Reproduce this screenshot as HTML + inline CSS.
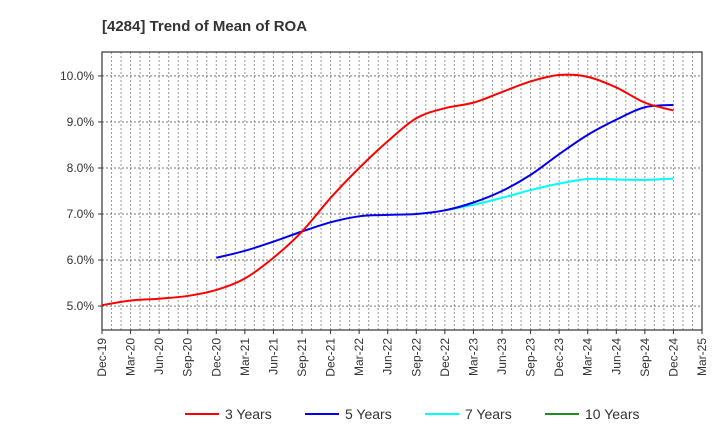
<!DOCTYPE html>
<html><head><meta charset="utf-8"><style>
body{margin:0;background:#fff;font-family:"Liberation Sans",sans-serif;}
svg text{font-family:"Liberation Sans",sans-serif;}
</style></head><body>
<svg id="chart" width="720" height="440" xmlns="http://www.w3.org/2000/svg">
<text x="102" y="31" font-size="15" font-weight="bold" fill="#333">[4284]  Trend of Mean of ROA</text>
<g id="grid"></g>
<g id="axes"></g>
<g id="series"></g>
<g id="legend"></g>
</svg>
<script>
const xLabels=["Dec-19","Mar-20","Jun-20","Sep-20","Dec-20","Mar-21","Jun-21","Sep-21","Dec-21","Mar-22","Jun-22","Sep-22","Dec-22","Mar-23","Jun-23","Sep-23","Dec-23","Mar-24","Jun-24","Sep-24","Dec-24","Mar-25"];
const yTicks=[5,6,7,8,9,10];
const y3=[5.02,5.12,5.16,5.22,5.35,5.6,6.05,6.62,7.35,8.0,8.58,9.08,9.3,9.42,9.65,9.88,10.02,9.98,9.75,9.42,9.25];
const y5=[6.05,6.2,6.4,6.62,6.82,6.95,6.98,7.0,7.08,7.25,7.5,7.85,8.3,8.72,9.05,9.32,9.37];
const y7=[7.08,7.2,7.35,7.52,7.66,7.76,7.75,7.74,7.77];
const y10=[];
const start3=0,start5=4,start7=12,start10=0;
const L=102,R=702,T=52,B=330,yMin=4.48,yMax=10.52;
const NS="http://www.w3.org/2000/svg";
const xs=i=>L+i*(R-L)/(xLabels.length-1);
const ys=v=>B-(v-yMin)/(yMax-yMin)*(B-T);
function mk(tag,attrs,parent){const e=document.createElementNS(NS,tag);for(const k in attrs)e.setAttribute(k,attrs[k]);parent.appendChild(e);return e;}
const grid=document.getElementById('grid'),axes=document.getElementById('axes'),ser=document.getElementById('series'),leg=document.getElementById('legend');
for(let m=1;m<(xLabels.length-1)*3;m++){const x=L+m*(R-L)/((xLabels.length-1)*3);
 const g=mk('line',{x1:x,x2:x,y1:T,y2:B,stroke:'#999','stroke-width':1,'stroke-dasharray':'2,2'},grid);
 
 }
yTicks.forEach(v=>{const y=ys(v);
 const g=mk('line',{x1:L,x2:R,y1:y,y2:y,stroke:'#777','stroke-width':1,'stroke-dasharray':'2,2'},grid);
 
 
 const t=mk('text',{x:L-8,y:y+4,'text-anchor':'end','font-size':12,fill:'#333'},axes);t.textContent=v.toFixed(1)+'%';
 
 
 mk('line',{x1:L-4,x2:L,y1:y,y2:y,stroke:'#333'},axes);});
const fr=mk('rect',{x:L,y:T,width:R-L,height:B-T,fill:'none',stroke:'#333','stroke-width':1.2},axes);


xLabels.forEach((s,i)=>{const x=xs(i);
 mk('line',{x1:x,x2:x,y1:B,y2:B+4,stroke:'#333'},axes);
 const t=mk('text',{transform:`translate(${x+4},${B+8}) rotate(-90)`,'text-anchor':'end','font-size':12,fill:'#333'},axes);t.textContent=s;
 
 });
function path(vals,start){if(vals.length<2)return'';const p=vals.map((v,i)=>[xs(start+i),ys(v)]);
 let d=`M${p[0][0]},${p[0][1]}`;
 for(let i=0;i<p.length-1;i++){const p0=p[Math.max(i-1,0)],p1=p[i],p2=p[i+1],p3=p[Math.min(i+2,p.length-1)];
  d+=` C${p1[0]+(p2[0]-p0[0])/6},${p1[1]+(p2[1]-p0[1])/6} ${p2[0]-(p3[0]-p1[0])/6},${p2[1]-(p3[1]-p1[1])/6} ${p2[0]},${p2[1]}`;}
 return d;}
[[y10,start10,'#228B22','line-10-years'],[y7,start7,'#00FFFF','line-7-years'],[y5,start5,'#0000EE','line-5-years'],[y3,start3,'#FF0000','line-3-years']].forEach(([v,s,c,n])=>{
 const d=path(v,s);if(!d)return;
 const p=mk('path',{d:d,fill:'none',stroke:c,'stroke-width':2},ser);
 
 });
[['3 Years','#FF0000',185],['5 Years','#0000EE',305],['7 Years','#00FFFF',425],['10 Years','#228B22',545]].forEach(([t,c,x])=>{
 const g=mk('g',{},leg);
 
 
 mk('line',{x1:x,x2:x+34,y1:414,y2:414,stroke:c,'stroke-width':2},g);
 const tx=mk('text',{x:x+40,y:419,'font-size':14,fill:'#333'},g);tx.textContent=t;});
</script>
</body></html>
